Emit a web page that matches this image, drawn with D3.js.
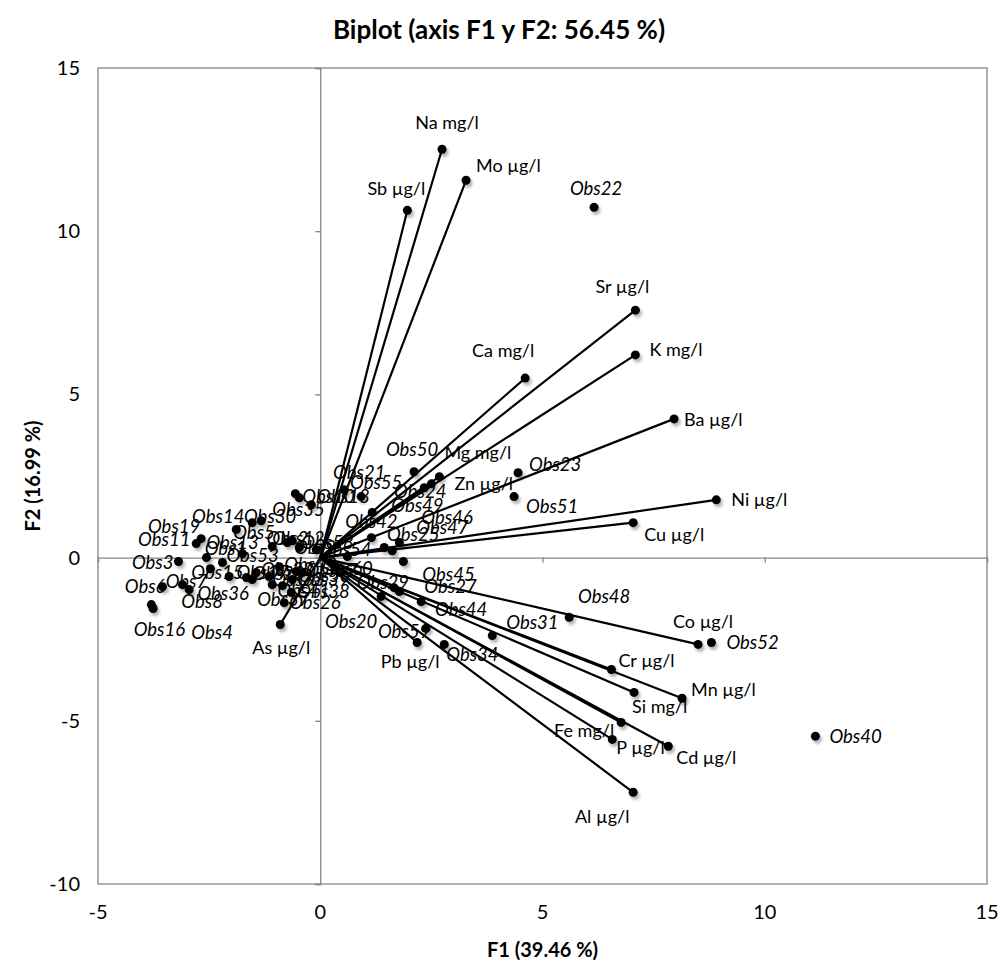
<!DOCTYPE html>
<html>
<head>
<meta charset="utf-8">
<script src="https://cdn.jsdelivr.net/npm/d3@7"></script>
<style>
  body { margin: 0; background: #fff; }
  svg { display: block; }
  text { font-family: Lato, "Open Sans", sans-serif; fill: #000; }
</style>
</head>
<body>
<svg id="chart" width="1002" height="967"></svg>
<script>
// ---- chart text ----
const titleText = "Biplot (axis F1 y F2: 56.45 %)";
const xTitle = "F1 (39.46 %)";
const yTitle = "F2 (16.99 %)";
const xTicks = [-5, 0, 5, 10, 15];
const yTicks = [-10, -5, 0, 5, 10, 15];

// ---- variables (loadings, drawn as vectors from the origin) ----
const varNames = ["Na mg/l", "Mo µg/l", "Sb µg/l", "Sr µg/l", "K mg/l", "Ca mg/l", "Ba µg/l",
  "Ni µg/l", "Cu µg/l", "Mg mg/l", "Zn µg/l", "Co µg/l", "Cr µg/l", "Mn µg/l", "Si mg/l",
  "Fe mg/l", "P µg/l", "Cd µg/l", "Al µg/l", "Pb µg/l", "As µg/l"];
const varF1 = [2.74, 3.28, 1.96, 7.09, 7.09, 4.61, 7.96, 8.91, 7.04, 2.68, 2.50, 8.50, 6.55, 8.14, 7.06,
  6.77, 6.57, 7.83, 7.04, 2.18, -0.90];
const varF2 = [12.51, 11.56, 10.64, 7.58, 6.21, 5.50, 4.25, 1.77, 1.07, 2.48, 2.26, -2.66, -3.43, -4.31, -4.13,
  -5.05, -5.57, -5.78, -7.19, -2.60, -2.05];

// ---- observations (scores) ----
const obsNames = ["Obs1","Obs2","Obs3","Obs4","Obs5","Obs6","Obs7","Obs8","Obs9","Obs10",
  "Obs11","Obs12","Obs13","Obs14","Obs15","Obs16","Obs17","Obs18","Obs19","Obs20",
  "Obs21","Obs22","Obs23","Obs24","Obs25","Obs26","Obs27","Obs28","Obs29","Obs30",
  "Obs31","Obs32","Obs33","Obs34","Obs35","Obs36","Obs37","Obs38","Obs39","Obs40",
  "Obs41","Obs42","Obs43","Obs44","Obs45","Obs46","Obs47","Obs48","Obs49","Obs50",
  "Obs51","Obs52","Obs53","Obs54","Obs55","Obs56","Obs57","Obs58","Obs59","Obs60"];
const obsF1 = [-2.20, -0.74, -3.19, -3.76, -1.89, -3.55, -3.10, -2.95, -0.63, -0.20,
  -2.79, -1.08, -2.56, -1.53, -2.47, -3.80, -1.66, -0.56, -2.68, 1.37,
  0.54, 6.16, 4.45, 2.34, 1.44, -0.81, 1.78, -1.53, 1.66, -1.33,
  3.87, -1.44, -1.15, 2.79, -0.47, -2.05, -1.08, -0.65, -0.63, 11.14,
  -0.85, 1.15, -0.92, 2.27, 1.87, 1.78, 1.62, 5.60, 1.17, 2.11,
  4.36, 8.80, -1.75, -0.09, 0.92, -0.54, -0.40, -0.47, 2.38, 0.61];
const obsF2 = [-0.15, 0.46, -0.12, -1.56, 0.86, -0.89, -0.83, -0.98, 0.52, 1.62,
  0.43, 0.34, 0.00, 1.07, -0.34, -1.44, -0.61, 1.96, 0.58, -1.19,
  2.08, 10.73, 2.60, 2.14, 0.31, -1.38, -1.04, -0.67, -0.92, 1.13,
  -2.39, -0.46, -0.58, -2.66, 1.83, -0.58, -0.83, -1.07, -0.67, -5.47,
  -0.86, 0.61, -0.28, -1.35, -0.12, 0.46, 0.21, -1.83, 1.38, 2.63,
  1.87, -2.60, 0.12, 0.24, 1.87, -0.43, -0.46, 0.31, -2.17, 0.03];

// ---- label placement (pixel offset from the point, text anchor) ----
const varLabelPlace = [
  [5, -27, "middle"], [10, -15, "start"], [-11, -22, "middle"], [-13, -23, "middle"], [14, -5, "start"],
  [-22, -27, "middle"], [10, 1, "start"], [15, 0, "start"], [11, 12, "start"], [5, -24, "start"],
  [23, 0, "start"], [5, -23, "middle"], [7, -9, "start"], [9, -9, "start"], [-2, 14, "start"],
  [-7, 8, "end"], [4, 8, "start"], [8, 11, "start"], [-31, 24, "middle"], [-7, 19, "middle"],
  [1, 23, "middle"]];
const obsLabelPlace = [
  [3, -14, "middle"], [0, -4, "middle"], [-5, 1, "end"], [59, 24, "middle"], [-3, 3, "start"],
  [3, 0, "end"], [4, -3, "middle"], [13, 12, "middle"], [2, 7, "start"], [-9, -8, "start"],
  [-32, -4, "middle"], [0, -8, "start"], [0, -15, "start"], [-34, -6, "middle"], [7, 4, "middle"],
  [8, 25, "middle"], [-10, -5, "start"], [22, 3, "start"], [-27, -12, "middle"], [-30, 25, "middle"],
  [15, -17, "middle"], [2, -19, "middle"], [11, -8, "start"], [-4, 4, "middle"], [29, -13, "middle"],
  [5, 0, "start"], [25, -5, "start"], [0, -6, "start"], [15, -5, "end"], [9, -4, "middle"],
  [14, -13, "start"], [5, -3, "start"], [3, 3, "start"], [2, 10, "start"], [-27, 12, "start"],
  [-6, 17, "middle"], [-15, 15, "start"], [6, -1, "start"], [5, 0, "start"], [14, 0, "start"],
  [-5, 5, "start"], [0, -16, "middle"], [5, -2, "start"], [40, 8, "middle"], [19, 13, "start"],
  [22, -25, "start"], [24, -23, "start"], [35, -21, "middle"], [19, -7, "start"], [-2, -22, "middle"],
  [12, 10, "start"], [15, 0, "start"], [-16, 2, "start"], [3, 0, "start"], [15, -14, "middle"],
  [2, 4, "start"], [3, -2, "start"], [2, -5, "start"], [-22, 3, "middle"], [-26, 12, "start"]];

const variables = varNames.map((n, i) => ({ name: n, f1: varF1[i], f2: varF2[i], place: varLabelPlace[i] }));
const observations = obsNames.map((n, i) => ({ name: n, f1: obsF1[i], f2: obsF2[i], place: obsLabelPlace[i] }));

// ---- layout ----
const svg = d3.select("#chart");
const plot = { left: 98, right: 987, top: 68, bottom: 884 };
const x = d3.scaleLinear().domain([-5, 15]).range([plot.left, plot.right]);
const y = d3.scaleLinear().domain([-10, 15]).range([plot.bottom, plot.top]);
const axisGrey = "#868686";

// soft shadow under markers
const defs = svg.append("defs");
const f = defs.append("filter").attr("id", "shadow").attr("x", "-100%").attr("y", "-100%")
  .attr("width", "300%").attr("height", "300%");
f.append("feDropShadow").attr("dx", 2).attr("dy", 3).attr("stdDeviation", 1.6)
  .attr("flood-color", "#000").attr("flood-opacity", 0.3);

// title
svg.append("text").attr("x", 499).attr("y", 39).attr("text-anchor", "middle")
  .attr("font-size", 26).attr("font-weight", "bold").text(titleText);

// plot frame
svg.append("rect").attr("x", plot.left).attr("y", plot.top)
  .attr("width", plot.right - plot.left).attr("height", plot.bottom - plot.top)
  .attr("fill", "none").attr("stroke", axisGrey).attr("stroke-width", 1.3);

// axes through the origin, with tick marks
const xAxisG = svg.append("g").attr("transform", `translate(0,${y(0)})`)
  .call(d3.axisBottom(x).tickValues(xTicks).tickSize(5).tickFormat(""));
const yAxisG = svg.append("g").attr("transform", `translate(${x(0)},0)`)
  .call(d3.axisLeft(y).tickValues(yTicks).tickSize(5).tickFormat(""));
[xAxisG, yAxisG].forEach(g => {
  g.select(".domain").attr("stroke", axisGrey).attr("stroke-width", 1.3);
  g.selectAll(".tick line").attr("stroke", axisGrey).attr("stroke-width", 1.3);
});

// tick labels on the plot edges
svg.append("g").selectAll("text").data(xTicks).join("text")
  .attr("x", d => x(d)).attr("y", plot.bottom + 35).attr("text-anchor", "middle")
  .attr("font-size", 20).text(d => d);
svg.append("g").selectAll("text").data(yTicks).join("text")
  .attr("x", plot.left - 18).attr("y", d => y(d)).attr("dy", "0.35em").attr("text-anchor", "end")
  .attr("font-size", 20).text(d => d);

// axis titles
svg.append("text").attr("x", (plot.left + plot.right) / 2).attr("y", 957).attr("text-anchor", "middle")
  .attr("font-size", 20).attr("font-weight", "bold").text(xTitle);
svg.append("text").attr("transform", `translate(40,${(plot.top + plot.bottom) / 2}) rotate(-90)`)
  .attr("text-anchor", "middle").attr("font-size", 20).attr("font-weight", "bold").text(yTitle);

// variable vectors
svg.append("g").selectAll("line").data(variables).join("line")
  .attr("x1", x(0)).attr("y1", y(0))
  .attr("x2", d => x(d.f1)).attr("y2", d => y(d.f2))
  .attr("stroke", "#000").attr("stroke-width", 2.2);

// markers
const marks = svg.append("g").attr("filter", "url(#shadow)");
marks.selectAll("circle.obs").data(observations).join("circle").attr("class", "obs")
  .attr("cx", d => x(d.f1)).attr("cy", d => y(d.f2)).attr("r", 4.5).attr("fill", "#000");
marks.selectAll("circle.var").data(variables).join("circle").attr("class", "var")
  .attr("cx", d => x(d.f1)).attr("cy", d => y(d.f2)).attr("r", 4.5).attr("fill", "#000");

// labels
svg.append("g").selectAll("text").data(observations).join("text")
  .attr("x", d => x(d.f1) + d.place[0]).attr("y", d => y(d.f2) + d.place[1])
  .attr("dy", "0.35em").attr("text-anchor", d => d.place[2])
  .attr("font-size", 18.5).attr("font-style", "italic").text(d => d.name);
svg.append("g").selectAll("text").data(variables).join("text")
  .attr("x", d => x(d.f1) + d.place[0]).attr("y", d => y(d.f2) + d.place[1])
  .attr("dy", "0.35em").attr("text-anchor", d => d.place[2])
  .attr("font-size", 18).text(d => d.name);
</script>
</body>
</html>
